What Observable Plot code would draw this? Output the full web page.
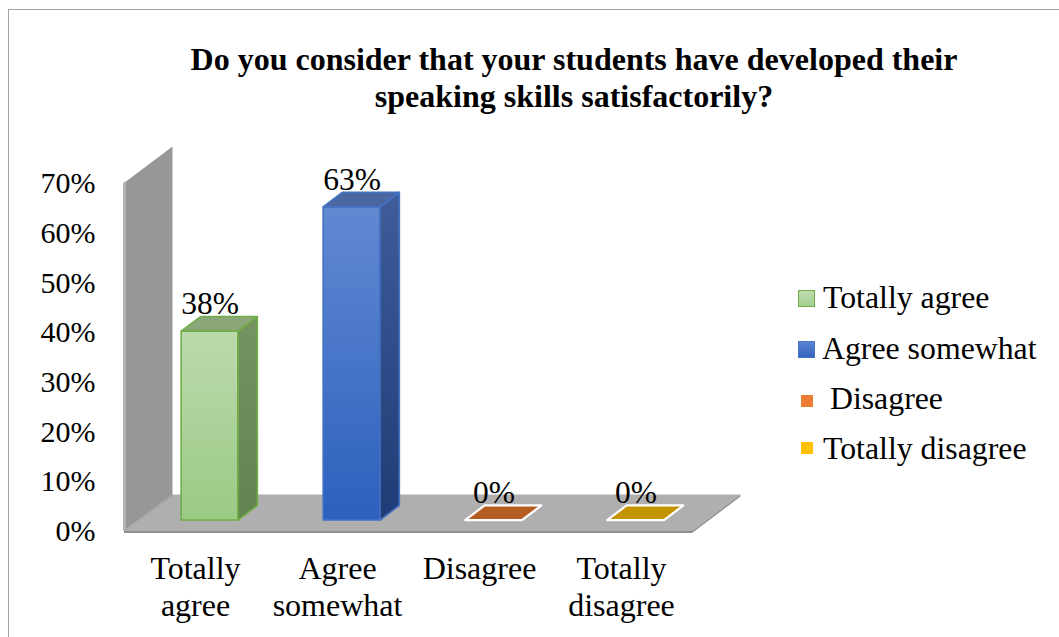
<!DOCTYPE html>
<html>
<head>
<meta charset="utf-8">
<script src="https://cdn.jsdelivr.net/npm/d3@7"></script>
<script src="https://cdn.jsdelivr.net/npm/@observablehq/plot@0.6"></script>
<style>
html, body { margin: 0; padding: 0; overflow: hidden; background: #fff; width: 1059px; height: 637px; }
body { position: relative; font-family: "Liberation Serif", "Times New Roman", serif; color: #000; }
#frame { position: absolute; left: 8px; top: 9px; width: 1200px; height: 800px; border: 1px solid #a3a3a3; pointer-events: none; z-index: 5; }
#title { position: absolute; left: 0; width: 1148px; top: 41px; text-align: center; font-family: "Liberation Serif", "Times New Roman", serif; font-weight: bold; font-size: 32px; line-height: 37px; z-index: 3; }
#chart { position: absolute; left: 0; top: 0; }
.lg-sw { position: absolute; box-sizing: border-box; }
.lg-tx { position: absolute; font-size: 31.8px; line-height: 31.8px; white-space: pre; }
</style>
</head>
<body>
<div id="chart"></div>
<div id="title"></div>
<div id="legend"></div>
<div id="frame"></div>
<script>
// ---- data ----
const titleLines = ["Do you consider that your students have developed their", "speaking skills satisfactorily?"];
const categories = ["Totally agree", "Agree somewhat", "Disagree", "Totally disagree"];
const axisLabels = ["Totally\nagree", "Agree\nsomewhat", "Disagree", "Totally\ndisagree"];
const legendLabels = ["Totally agree", "Agree somewhat", " Disagree", "Totally disagree"];
const values = [0.38, 0.63, 0, 0];
const valueLabels = ["38%", "63%", "0%", "0%"];
const yTicks = [0, 0.1, 0.2, 0.3, 0.4, 0.5, 0.6, 0.7];

// ---- style ----
const palette = [
  {front: ["#bcdaad", "#9bca85"], side: ["#769461", "#638250"], top: "#8ba77a", stroke: "#70ad47", legend: ["#c0dcb1", "#a3cf8e"], legendStroke: "#70ad47"},
  {front: ["#6189d2", "#2c60bd"], side: ["#3e5d99", "#1f3c76"], top: "#4a67a2", stroke: "#4472c4", legend: ["#5a82cf", "#3565c0"], legendStroke: "#4472c4"},
  {front: ["#b45c24", "#b45c24"], side: ["#8a4418", "#8a4418"], top: "#b55d23", stroke: "#ffffff", legend: ["#ed7d31", "#ed7d31"], legendStroke: "#ed7d31"},
  {front: ["#c49300", "#c49300"], side: ["#947000", "#947000"], top: "#c49300", stroke: "#ffffff", legend: ["#ffc000", "#ffc000"], legendStroke: "#ffc000"}
];
const DX = 48.5, DY = -36.5;   // depth vector of the 3D box (px)
const F0 = 0.3, FD = 0.4, WF = 0.4; // bar depth start, bar depth, bar width fraction

const data = categories.map((c, i) => ({cat: c, value: values[i], label: valueLabels[i], axis: axisLabels[i]}));

function scene(index, scales) {
  const x = scales.x, y = scales.y;
  const g = d3.create("svg:g");
  const defs = g.append("defs");
  const grad = (id, c0, c1) => {
    const lg = defs.append("linearGradient").attr("id", id).attr("x1", 0).attr("y1", 0).attr("x2", 0).attr("y2", 1);
    lg.append("stop").attr("offset", "0%").attr("stop-color", c0);
    lg.append("stop").attr("offset", "100%").attr("stop-color", c1);
  };
  const P = pts => pts.map(p => p[0].toFixed(2) + "," + p[1].toFixed(2)).join(" ");
  const step = x(categories[1]) - x(categories[0]);
  const X0 = x(categories[0]);
  const X1 = x(categories[categories.length - 1]) + step;
  const Y0 = y(0), Y1 = y(yTicks[yTicks.length - 1]);

  // side wall
  g.append("polygon").attr("points", P([[X0, Y0], [X0, Y1], [X0 + DX, Y1 + DY], [X0 + DX, Y0 + DY]]))
    .attr("fill", "#979797");
  g.append("polygon").attr("points", P([[X0 - 1, Y0], [X0 - 1, Y1], [X0 + 2, Y1 - 2], [X0 + 2, Y0]]))
    .attr("fill", "#b3b3b3");
  // floor
  g.append("polygon").attr("points", P([[X0, Y0], [X1, Y0], [X1 + DX, Y0 + DY], [X0 + DX, Y0 + DY]]))
    .attr("fill", "#afafaf");
  g.append("polygon").attr("points", P([[X0, Y0], [X1, Y0], [X1 + DX, Y0 + DY], [X1 + DX, Y0 + DY + 2], [X1, Y0 + 2], [X0, Y0 + 2]]))
    .attr("fill", "#8e8e8e");
  g.append("polygon").attr("points", P([[X0, Y0], [X0 + DX, Y0 + DY], [X0 + DX, Y0 + DY + 1.5], [X0 + 1, Y0]]))
    .attr("fill", "#a2a2a2");

  // bars
  categories.forEach((c, i) => {
    const v = values[i], p = palette[i];
    grad("gf" + i, p.front[0], p.front[1]);
    grad("gs" + i, p.side[0], p.side[1]);
    const w = step * WF;
    const bx = x(c) + step * (0.5 - WF / 2) + F0 * DX;
    const yb = y(0) + F0 * DY, yt = y(v) + F0 * DY;
    const ddx = FD * DX, ddy = FD * DY;
    const sw = v > 0 ? 1.6 : 2.2;
    if (yb - yt > 0.5) {
      g.append("polygon").attr("points", P([[bx, yt], [bx + w, yt], [bx + w, yb], [bx, yb]]))
        .attr("fill", `url(#gf${i})`).attr("stroke", p.stroke).attr("stroke-width", sw).attr("stroke-linejoin", "round");
      g.append("polygon").attr("points", P([[bx + w, yt], [bx + w + ddx, yt + ddy], [bx + w + ddx, yb + ddy], [bx + w, yb]]))
        .attr("fill", `url(#gs${i})`).attr("stroke", p.stroke).attr("stroke-width", sw).attr("stroke-linejoin", "round");
    }
    g.append("polygon").attr("points", P([[bx, yt], [bx + ddx, yt + ddy], [bx + w + ddx, yt + ddy], [bx + w, yt]]))
      .attr("fill", p.top).attr("stroke", p.stroke).attr("stroke-width", sw).attr("stroke-linejoin", "round");
  });
  return g.node();
}

const fmt = d3.format(".0%");

const chart = Plot.plot({
  width: 1059,
  height: 637,
  marginLeft: 124,
  marginRight: 367,
  marginTop: 183,
  marginBottom: 106,
  style: {background: "transparent", fontFamily: "'Liberation Serif', 'Times New Roman', serif", fontSize: "31px", color: "#000", overflow: "visible"},
  x: {type: "band", domain: categories, padding: 0, axis: null},
  y: {domain: [0, yTicks[yTicks.length - 1]], axis: null},
  marks: [
    scene,
    Plot.text(yTicks, {y: d => d, text: d => fmt(d), frameAnchor: "left", textAnchor: "end", dx: -29, fontSize: 30, fill: "#000"}),
    Plot.text(data, {x: "cat", text: "axis", frameAnchor: "bottom", lineAnchor: "top", dy: 21, lineHeight: 1.16, fontSize: 32, fill: "#000"}),
    Plot.text(data, {x: "cat", y: "value", text: "label", lineAnchor: "bottom", dx: F0 * DX, dy: -28.5, fontSize: 31.5, fill: "#000"})
  ]
});
document.getElementById("chart").appendChild(chart);

// title
const t = document.getElementById("title");
titleLines.forEach(s => { const d = document.createElement("div"); d.textContent = s; t.appendChild(d); });

// legend
const lg = document.getElementById("legend");
const legendRows = [
  {sw: [798, 290, 17], tx: [823, 282]},
  {sw: [798, 341, 17], tx: [822, 333]},
  {sw: [801, 395, 12], tx: [822, 383]},
  {sw: [801, 442, 12], tx: [823, 433]}
];
legendLabels.forEach((lab, i) => {
  const r = legendRows[i], p = palette[i];
  const s = document.createElement("div");
  s.className = "lg-sw";
  s.style.left = r.sw[0] + "px"; s.style.top = r.sw[1] + "px";
  s.style.width = r.sw[2] + "px"; s.style.height = r.sw[2] + "px";
  s.style.background = `linear-gradient(${p.legend[0]}, ${p.legend[1]})`;
  s.style.border = `1.5px solid ${p.legendStroke}`;
  lg.appendChild(s);
  const tx = document.createElement("div");
  tx.className = "lg-tx";
  tx.style.left = r.tx[0] + "px"; tx.style.top = r.tx[1] + "px";
  tx.textContent = lab;
  lg.appendChild(tx);
});
</script>
</body>
</html>
